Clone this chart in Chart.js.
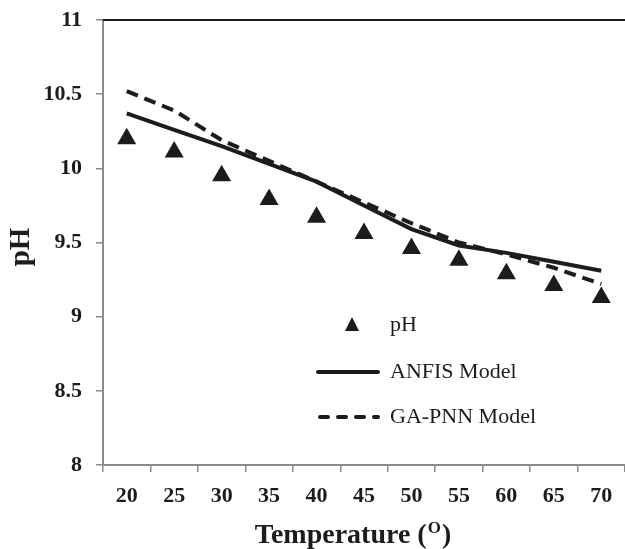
<!DOCTYPE html>
<html>
<head>
<meta charset="utf-8">
<script src="https://cdn.jsdelivr.net/npm/chart.js@4/dist/chart.umd.min.js"></script>
<style>
  html, body { margin: 0; padding: 0; background: #fff; }
  #wrap { width: 625px; height: 549px; position: relative; }
</style>
</head>
<body>
<div id="wrap"><canvas id="phChart" width="625" height="549"></canvas></div>
<script>
// temperature categories and series
const temperatures = ['20', '25', '30', '35', '40', '45', '50', '55', '60', '65', '70'];
const phMeasured = [10.20, 10.11, 9.95, 9.79, 9.67, 9.56, 9.46, 9.38, 9.29, 9.21, 9.13];
const anfisModel = [10.37, 10.26, 10.15, 10.03, 9.91, 9.75, 9.59, 9.48, 9.43, 9.37, 9.31];
const gapnnModel = [10.52, 10.39, 10.19, 10.05, 9.91, 9.77, 9.63, 9.50, 9.42, 9.33, 9.22];
const yTicks = [8, 8.5, 9, 9.5, 10, 10.5, 11];

const serif = '"Liberation Serif", "Times New Roman", serif';
const ink = '#1c1c1c';
const axisGray = '#8a8a8a';

// top frame line, legend inside plot, axis titles
const decor = {
  id: 'decor',
  afterDraw(chart) {
    const { ctx, chartArea } = chart;
    ctx.save();
    // top border
    ctx.strokeStyle = ink;
    ctx.lineWidth = 2;
    ctx.beginPath();
    ctx.moveTo(chartArea.left, chartArea.top);
    ctx.lineTo(chart.width, chartArea.top);
    ctx.stroke();

    // legend
    const lx = 318, tx = 390;
    ctx.fillStyle = ink;
    ctx.font = '22px ' + serif;
    ctx.textBaseline = 'middle';
    // triangle
    ctx.beginPath();
    ctx.moveTo(352, 317);
    ctx.lineTo(359, 331);
    ctx.lineTo(345, 331);
    ctx.closePath();
    ctx.fill();
    ctx.fillText('pH', tx, 325);
    ctx.lineCap = 'round';
    ctx.lineWidth = 4;
    ctx.beginPath();
    ctx.moveTo(lx, 372);
    ctx.lineTo(lx + 60, 372);
    ctx.stroke();
    ctx.fillText('ANFIS Model', tx, 372);
    ctx.setLineDash([8, 10]);
    ctx.beginPath();
    ctx.moveTo(lx + 2, 417);
    ctx.lineTo(lx + 60, 417);
    ctx.stroke();
    ctx.setLineDash([]);
    ctx.fillText('GA-PNN Model', tx, 417);

    // y title
    ctx.font = 'bold 29px ' + serif;
    ctx.textAlign = 'center';
    ctx.save();
    ctx.translate(22, 247);
    ctx.rotate(-Math.PI / 2);
    ctx.fillText('pH', 0, 0);
    ctx.restore();

    // x title with superscript O
    const main = 'Temperature (';
    ctx.textAlign = 'left';
    ctx.font = 'bold 28px ' + serif;
    const w1 = ctx.measureText(main).width;
    ctx.font = 'bold 17px ' + serif;
    const w2 = ctx.measureText('O').width;
    ctx.font = 'bold 28px ' + serif;
    const w3 = ctx.measureText(')').width;
    const total = w1 + w2 + w3 + 2;
    let x = 353 - total / 2;
    const y = 536;
    ctx.fillText(main, x, y);
    x += w1 + 1;
    ctx.font = 'bold 17px ' + serif;
    ctx.fillText('O', x, y - 7);
    x += w2 + 1;
    ctx.font = 'bold 28px ' + serif;
    ctx.fillText(')', x, y);
    ctx.restore();
  }
};

new Chart(document.getElementById('phChart'), {
  type: 'line',
  data: {
    labels: temperatures,
    datasets: [
      {
        label: 'pH',
        data: phMeasured,
        showLine: false,
        pointStyle: 'triangle',
        pointRadius: 11,
        backgroundColor: ink,
        borderColor: ink,
        borderWidth: 0
      },
      {
        label: 'ANFIS Model',
        data: anfisModel,
        borderColor: ink,
        borderWidth: 4,
        pointRadius: 0,
        tension: 0,
        fill: false
      },
      {
        label: 'GA-PNN Model',
        data: gapnnModel,
        borderColor: ink,
        borderWidth: 4,
        borderDash: [12, 7],
        pointRadius: 0,
        tension: 0,
        fill: false
      }
    ]
  },
  options: {
    responsive: false,
    animation: false,
    layout: { autoPadding: false, padding: { left: 0, right: 0, top: 20, bottom: 0 } },
    plugins: {
      legend: { display: false },
      tooltip: { enabled: false }
    },
    scales: {
      x: {
        offset: true,
        afterFit: s => { s.height = 84; s.paddingLeft = 0; s.paddingRight = 0; },
        border: { display: true, color: axisGray, width: 2 },
        grid: { offset: true, drawOnChartArea: false, drawTicks: true, tickLength: 7, color: axisGray, lineWidth: 1.5 },
        ticks: { color: ink, font: { family: serif, size: 22, weight: 'bold' }, padding: 11, maxRotation: 0 }
      },
      y: {
        min: 8,
        max: 11,
        afterFit: s => { s.width = 103; s.paddingTop = 0; s.paddingBottom = 0; },
        afterBuildTicks: s => { s.ticks = yTicks.map(v => ({ value: v })); },
        border: { display: true, color: axisGray, width: 2 },
        grid: { drawOnChartArea: false, drawTicks: true, tickLength: 7, color: axisGray, lineWidth: 1.5 },
        ticks: {
          color: ink,
          font: { family: serif, size: 22, weight: 'bold' },
          padding: 14,
          callback: v => String(v)
        }
      }
    }
  },
  plugins: [decor]
});
</script>
</body>
</html>
